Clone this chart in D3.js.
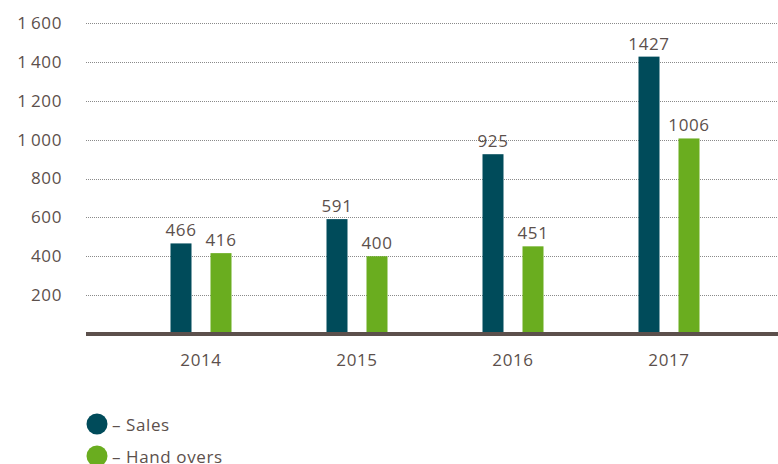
<!DOCTYPE html>
<html><head><meta charset="utf-8">
<script src="https://cdn.jsdelivr.net/npm/d3@7"></script>
<style>
html,body{margin:0;padding:0;background:#fff;}
svg{display:block;font-family:"Open Sans","Noto Sans",sans-serif;}
svg text{letter-spacing:0.6px;}
</style></head>
<body>
<svg id="chart" width="778" height="464"></svg>
<script>
const years = ["2014","2015","2016","2017"];
const seriesNames = ["Sales","Hand overs"];
const sales = [466, 591, 925, 1427];
const handOvers = [416, 400, 451, 1006];
const yTicks = [200, 400, 600, 800, 1000, 1200, 1400, 1600];
const colors = ["#004b5a", "#6aad1f"];

const svg = d3.select("#chart");
const textColor = "#5c504c";
const fontFam = "'Open Sans', 'Noto Sans', sans-serif";
const fw = 400;

const y = d3.scaleLinear().domain([0, 1600]).range([334, 23]);
const x0 = d3.scaleBand().domain(years).range([123, 747]).padding(0);
const x1 = d3.scaleBand().domain(seriesNames).range([-40, 40]).padding(0);
const barW = 21;

const fmt = d3.formatLocale({decimal: ".", thousands: "\u2006", grouping: [3], currency: ["", ""]}).format(",d");

// gridlines
const yAxis = d3.axisLeft(y).tickValues(yTicks).tickSize(-(778 - 86)).tickFormat(fmt).tickPadding(24);
const gy = svg.append("g").attr("transform", "translate(86,0)").call(yAxis);
gy.select(".domain").remove();
gy.selectAll(".tick line").attr("stroke", "#8a8a8a").attr("stroke-width", 1).attr("stroke-dasharray", "1,1").attr("shape-rendering", "crispEdges");
gy.selectAll(".tick text").attr("fill", textColor).attr("font-size", 17).attr("font-family", fontFam).attr("font-weight", fw);

const data = years.map((yr, i) => ({year: yr, values: [
  {name: seriesNames[0], v: sales[i]},
  {name: seriesNames[1], v: handOvers[i]}
]}));

const groups = svg.append("g").selectAll("g").data(data).join("g")
  .attr("transform", d => `translate(${x0(d.year) + x0.bandwidth() / 2},0)`);

groups.selectAll("rect").data(d => d.values).join("rect")
  .attr("x", d => x1(d.name) + x1.bandwidth() / 2 - barW / 2)
  .attr("width", barW)
  .attr("y", d => y(d.v))
  .attr("height", d => y(0) - y(d.v))
  .attr("fill", (d, i) => colors[i]);

groups.selectAll("text.val").data(d => d.values).join("text")
  .attr("class", "val")
  .attr("x", d => x1(d.name) + x1.bandwidth() / 2)
  .attr("y", d => y(d.v) - 7)
  .attr("text-anchor", "middle")
  .attr("fill", textColor)
  .attr("font-size", 17)
  .attr("font-weight", fw)
  .text(d => d.v);

// baseline axis
const xAxis = d3.axisBottom(x0).tickSize(0).tickPadding(20);
const gx = svg.append("g").attr("transform", `translate(0,${y(0)})`).call(xAxis);
gx.select(".domain").remove();
gx.selectAll(".tick text").attr("fill", textColor).attr("font-size", 17).attr("font-family", fontFam).attr("font-weight", fw);
svg.append("line").attr("x1", 86).attr("x2", 778).attr("y1", y(0)).attr("y2", y(0))
  .attr("stroke", "#5c504c").attr("stroke-width", 4);

// legend
const legend = svg.append("g").selectAll("g").data(seriesNames).join("g")
  .attr("transform", (d, i) => `translate(97,${424 + i * 32})`);
legend.append("circle").attr("r", 10.5).attr("fill", (d, i) => colors[i]);
legend.append("text").attr("x", 15).attr("y", 6.5).attr("fill", textColor).attr("font-size", 17)
  .attr("font-weight", fw)
  .text(d => "\u2013 " + d);
</script>
</body></html>
